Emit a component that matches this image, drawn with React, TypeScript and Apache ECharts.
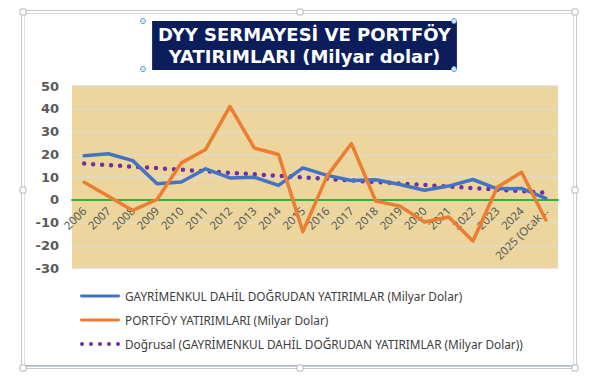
import React, { useEffect, useRef } from "react";
import * as echarts from "echarts";

const categories = [
  "2006", "2007", "2008", "2009", "2010", "2011", "2012", "2013", "2014", "2015",
  "2016", "2017", "2018", "2019", "2020", "2021", "2022", "2023", "2024", "2025 (Ocak…",
];
const dyyValues = [19.3, 20.2, 17.2, 7.0, 7.8, 13.6, 9.6, 9.9, 6.3, 14.0, 10.7, 8.5, 8.8, 6.7, 4.2, 6.0, 8.9, 4.8, 5.0, 0.6];
const portfoyValues = [7.7, 1.5, -4.7, 0.1, 16.2, 22.1, 41.0, 22.8, 19.9, -14.0, 10.5, 24.7, -0.6, -2.8, -9.8, -7.6, -18.1, 5.5, 12.1, -8.9];
const trendValues: (number | null)[] = [15.9, null, null, null, null, null, null, null, null, null, null, null, null, null, null, null, null, null, null, 3.1];

const seriesNames = [
  "GAYRİMENKUL DAHİL DOĞRUDAN YATIRIMLAR (Milyar Dolar)",
  "PORTFÖY YATIRIMLARI (Milyar Dolar)",
  "Doğrusal (GAYRİMENKUL DAHİL DOĞRUDAN YATIRIMLAR (Milyar Dolar))",
];
const yMin = -30;
const yMax = 50;
const yInterval = 10;
const titleText = "DYY SERMAYESİ VE PORTFÖY\nYATIRIMLARI (Milyar dolar)";

const barIcon = "path://M1.5,0h39a1.5,1.5 0 0 1 0,3h-39a1.5,1.5 0 0 1 0,-3z";
const dotIcon =
  "path://M0,2a2,2 0 1,0 4,0a2,2 0 1,0 -4,0z" +
  "M9,2a2,2 0 1,0 4,0a2,2 0 1,0 -4,0z" +
  "M18,2a2,2 0 1,0 4,0a2,2 0 1,0 -4,0z" +
  "M27,2a2,2 0 1,0 4,0a2,2 0 1,0 -4,0z" +
  "M36,2a2,2 0 1,0 4,0a2,2 0 1,0 -4,0z";

export default function App() {
  const ref = useRef<HTMLDivElement>(null);
  useEffect(() => {
    if (!ref.current) return;
    const chart = echarts.init(ref.current, null, { renderer: "svg" });
    const handle = (x: number, y: number) => ({
      type: "rect",
      shape: { x: x - 3, y: y - 3, width: 6, height: 6, r: 1 },
      style: { fill: "#ffffff", stroke: "#b4b4b4", lineWidth: 1 },
      z: 10,
    });
    const dot = (x: number, y: number) => ({
      type: "circle",
      shape: { cx: x, cy: y, r: 2.5 },
      style: { fill: "#dce9f8", stroke: "#5b9bd5", lineWidth: 1 },
      z: 20,
    });
    chart.setOption({
      animation: false,
      backgroundColor: "#ffffff",
      title: {
        text: titleText,
        left: 298.5,
        top: 21,
        textAlign: "center",
        backgroundColor: "#0b1d5b",
        padding: [3, 6, 3, 6],
        textStyle: {
          color: "#ffffff",
          fontFamily: "DejaVu Sans",
          fontWeight: "bold",
          fontSize: 18,
          lineHeight: 21.5,
          align: "center",
        },
      },
      graphic: [
        {
          type: "rect",
          shape: { x: 21.5, y: 10.5, width: 555, height: 358 },
          style: { fill: "none", stroke: "#c8c8c8", lineWidth: 1 },
          z: 5,
        },
        {
          type: "rect",
          shape: { x: 24.5, y: 13.5, width: 549, height: 352 },
          style: { fill: "none", stroke: "#dedede", lineWidth: 1 },
          z: 5,
        },
        {
          type: "line",
          shape: { x1: 24, y1: 366, x2: 574, y2: 366 },
          style: { stroke: "#8797b6", lineWidth: 1.2 },
          z: 6,
        },
        handle(23, 12),
        handle(300, 12),
        handle(575, 12),
        handle(23, 190),
        handle(575, 190),
        handle(23, 368),
        handle(300, 368),
        handle(575, 368),
        dot(143, 21),
        dot(454, 21),
        dot(143, 69),
        dot(454, 69),
      ],
      legend: {
        orient: "vertical",
        left: 75,
        top: 285,
        itemWidth: 40,
        itemHeight: 14,
        itemGap: 12,
        symbolKeepAspect: true,
        textStyle: { color: "#404040", fontFamily: "Noto Sans", fontSize: 11.8 },
        data: [
          { name: seriesNames[0], icon: barIcon },
          { name: seriesNames[1], icon: barIcon },
          { name: seriesNames[2], icon: dotIcon },
        ],
      },
      grid: {
        left: 72,
        right: 46,
        top: 86,
        bottom: 123,
        show: true,
        backgroundColor: "#ecd69d",
        borderWidth: 0,
      },
      xAxis: {
        type: "category",
        data: categories,
        boundaryGap: true,
        position: "bottom",
        offset: -68.25,
        axisLine: { onZero: false, lineStyle: { color: "#2fb13a", width: 2 } },
        axisTick: { show: false },
        axisLabel: {
          rotate: 45,
          interval: 0,
          margin: 9,
          color: "#595959",
          fontFamily: "Noto Sans",
          fontSize: 11.5,
        },
      },
      yAxis: {
        type: "value",
        min: yMin,
        max: yMax,
        interval: yInterval,
        axisLine: { show: false },
        axisTick: { show: false },
        axisLabel: {
          margin: 13,
          color: "#595959",
          fontFamily: "DejaVu Sans",
          fontWeight: "bold",
          fontSize: 13,
        },
        splitLine: { lineStyle: { color: "#e0dacb", width: 1.5 } },
      },
      series: [
        {
          name: seriesNames[0],
          type: "line",
          data: dyyValues,
          symbol: "none",
          lineStyle: { color: "#4472c4", width: 3.5, cap: "round", join: "round" },
          itemStyle: { color: "#4472c4" },
          z: 3,
        },
        {
          name: seriesNames[1],
          type: "line",
          data: portfoyValues,
          symbol: "none",
          lineStyle: { color: "#ed7d31", width: 3.5, cap: "round", join: "round" },
          itemStyle: { color: "#ed7d31" },
          z: 4,
        },
        {
          name: seriesNames[2],
          type: "line",
          data: trendValues,
          connectNulls: true,
          symbol: "none",
          lineStyle: { color: "#7030a0", width: 4.5, type: [0, 9], cap: "round" },
          itemStyle: { color: "#7030a0" },
          z: 2,
        },
      ],
    });
    return () => chart.dispose();
  }, []);
  return <div ref={ref} style={{ width: 604, height: 391, position: "absolute", left: 0, top: 0 }} />;
}
